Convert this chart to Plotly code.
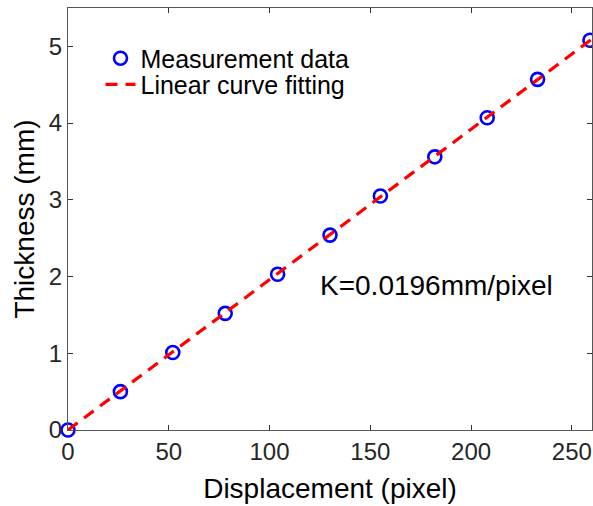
import plotly.graph_objects as go

# Data
disp_px = [0, 26, 52, 78, 104, 130, 155, 182, 208, 233, 259]
thick_mm = [0.0, 0.50, 1.01, 1.52, 2.03, 2.54, 3.05, 3.56, 4.07, 4.57, 5.08]
fit_x = [0, 260]
fit_y = [0.0, 5.096]
x_ticks = [0, 50, 100, 150, 200, 250]
y_ticks = [0, 1, 2, 3, 4, 5]

FONT = "Liberation Sans, Arial, sans-serif"
AX = "#262626"

fig = go.Figure()
fig.add_trace(go.Scatter(
    x=disp_px, y=thick_mm, mode="markers", name="Measurement data",
    marker=dict(symbol="circle-open", size=13, color="#0000ff",
                line=dict(width=2.6, color="#0000ff")),
    cliponaxis=False, legend="legend",
))
fig.add_trace(go.Scatter(
    x=fit_x, y=fit_y, mode="lines", name="Linear curve fitting",
    line=dict(color="#ff0000", width=3.2, dash="12px,8px"),
    legend="legend2",
))

fig.add_annotation(x=182.6, y=1.88, text="K=0.0196mm/pixel", showarrow=False,
                   font=dict(family=FONT, size=28, color="#000000"),
                   xanchor="center", yanchor="middle")

axis_common = dict(
    showline=True, linecolor="#555555", linewidth=1, mirror="ticks",
    ticks="inside", ticklen=5, tickcolor="#333333", tickwidth=1,
    showgrid=False, zeroline=False, automargin=False,
    tickfont=dict(family=FONT, size=24, color=AX),
)

leg_common = dict(xanchor="left", yanchor="top", bgcolor="rgba(0,0,0,0)",
                  borderwidth=0, font=dict(family=FONT, size=25, color="#000000"),
                  itemwidth=30)

fig.update_layout(
    width=593, height=506,
    margin=dict(l=68, r=1, t=8, b=76),
    paper_bgcolor="white", plot_bgcolor="white",
    xaxis=dict(range=[0, 260], tickvals=x_ticks,
               title=dict(text="Displacement (pixel)", standoff=14,
                          font=dict(family=FONT, size=28, color="#000000")),
               **axis_common),
    yaxis=dict(range=[0, 5.5], tickvals=y_ticks,
               title=dict(text="Thickness (mm)", standoff=6,
                          font=dict(family=FONT, size=28, color="#000000")),
               **axis_common),
    legend=dict(x=0.062, y=0.935, **leg_common),
    legend2=dict(x=0.062, y=0.873, **leg_common),
    showlegend=True,
)

fig.write_html("out.html", config={"displayModeBar": False},
               post_script="document.body.style.margin='0';document.body.style.overflow='hidden';")
